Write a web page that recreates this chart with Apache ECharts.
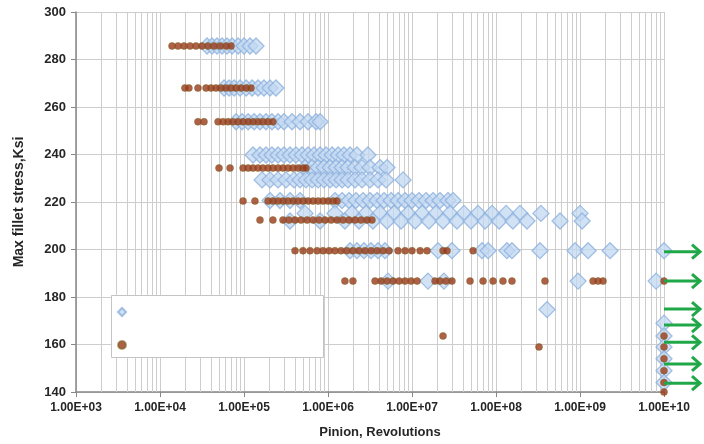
<!DOCTYPE html>
<html><head><meta charset="utf-8">
<script src="https://cdn.jsdelivr.net/npm/echarts@6/dist/echarts.min.js"></script>
<style>html,body{margin:0;padding:0;background:#fff}#c{width:704px;height:444px}</style>
</head><body><div id="c"></div>
<script>
// ---- Data: pinion revolutions per stress level (ksi) ----
// Blue diamonds
const blue286 = [3.63e4,4.16e4,4.77e4,5.48e4,6.28e4,7.21e4,8.5e4,1.0e5,1.18e5,1.39e5];
const blue268 = [5.79e4,6.64e4,7.62e4,8.98e4,1.06e5,1.25e5,1.47e5,1.73e5,2.04e5,2.40e5];
const blue254 = [8.05e4,9.49e4,1.12e5,1.32e5,1.55e5,1.83e5,2.15e5,2.54e5,2.99e5,3.73e5,4.64e5,5.79e5,7.21e5,8.05e5];
const blue240 = [1.28e5,1.55e5,1.83e5,2.15e5,2.54e5,2.99e5,3.53e5,4.16e5,4.91e5,5.79e5,6.82e5,8.05e5,9.49e5,1.12e6,1.32e6,1.55e6,1.83e6,2.21e6,2.99e6];
const blue234 = [5.33e5,6.46e5,7.62e5,8.98e5,1.06e6,1.25e6,1.47e6,1.73e6,2.10e6,2.54e6,3.16e6,4.16e6,5.04e6];
const blue229 = [1.64e5,2.04e5,2.54e5,3.16e5,3.94e5,4.64e5,5.48e5,6.46e5,7.62e5,8.98e5,1.06e6,1.25e6,1.47e6,1.73e6,2.10e6,2.54e6,3.16e6,3.94e6,4.91e6,7.83e6];
const blue221 = [2.04e5,2.68e5,3.53e5,4.64e5,1.21e6,1.47e6,1.78e6,2.15e6,2.61e6,3.16e6,3.83e6,4.64e6,5.63e6,6.82e6,8.27e6,1.0e7,1.21e7,1.47e7,1.78e7,2.15e7,2.68e7,3.08e7];
const blue215 = [5.33e5,1.21e6,1.93e6,2.83e6,4.16e6,6.11e6,8.98e6,1.32e7,1.93e7,2.83e7,4.16e7,6.11e7,8.98e7,1.32e8,1.93e8,3.43e8,1.0e9];
const blue212 = [3.53e5,8.05e5,1.59e6,2.34e6,3.43e6,5.04e6,7.41e6,1.09e7,1.59e7,2.34e7,3.43e7,5.04e7,7.41e7,1.09e8,1.59e8,2.34e8,5.79e8,1.06e9];
const blue200 = [1.83e6,2.21e6,2.68e6,3.25e6,3.94e6,4.77e6,2.04e7,2.99e7,6.82e7,8.05e7,1.35e8,1.55e8,3.34e8,8.74e8,1.25e9,2.28e9,1.0e10];
const blue187 = [5.18e6,1.55e7,2.40e7,9.49e8,8.05e9];
const blueOther = [[4.05e8,174.7]];
const blueAt1e10 = [169,163.6,159,154,149,144];

// Brown dots
const dot286 = [1.39e4,1.64e4,1.93e4,2.28e4,2.68e4,3.16e4,3.73e4,4.40e4,5.18e4,6.11e4,7.01e4];
const dot268 = [1.98e4,2.21e4,2.83e4,3.53e4,4.05e4,4.64e4,5.33e4,6.11e4,7.01e4,8.05e4,9.23e4,1.06e5,1.21e5];
const dot254 = [2.83e4,3.34e4,4.91e4,5.63e4,6.46e4,7.41e4,8.5e4,9.75e4,1.12e5,1.28e5,1.47e5,1.68e5,1.93e5,2.21e5];
const dot234 = [5.04e4,6.82e4,9.75e4,1.12e5,1.28e5,1.47e5,1.68e5,1.93e5,2.21e5,2.54e5,2.91e5,3.34e5,3.83e5,4.40e5,5.04e5,5.48e5];
const dot220 = [9.75e4,1.35e5,1.93e5,2.21e5,2.54e5,2.91e5,3.34e5,3.83e5,4.40e5,5.04e5,5.79e5,6.64e5,7.62e5,8.74e5,1.0e6,1.15e6,1.28e6];
const dot212 = [1.55e5,2.21e5,2.91e5,3.43e5,4.05e5,4.77e5,5.63e5,6.64e5,7.83e5,9.23e5,1.09e6,1.28e6,1.51e6,1.78e6,2.10e6,2.47e6,2.91e6,3.34e6];
const dot200 = [4.05e5,5.04e5,6.11e5,7.41e5,8.74e5,1.03e6,1.21e6,1.43e6,1.68e6,1.98e6,2.34e6,2.76e6,3.25e6,3.83e6,4.52e6,5.33e6,6.82e6,8.27e6,1.0e7,1.25e7,1.51e7,2.34e7,2.61e7,5.33e7];
const dot187 = [1.59e6,1.98e6,3.63e6,4.28e6,5.04e6,5.95e6,7.01e6,8.27e6,9.75e6,1.15e7,1.88e7,2.15e7,2.54e7,2.99e7,4.91e7,7.01e7,9.23e7,1.21e8,1.55e8,3.83e8,1.43e9,1.64e9,1.88e9,1.0e10];
const dotOther = [[2.34e7,163.6],[3.25e8,159]];
const dotAt1e10 = [163.6,159,154,149,144,140];

// Run-out arrows (stress levels at 1E+10)
const arrowLevels = [199.1,186.7,174.9,168.2,160.9,151.8,143.7];

// ---- build series data ----
const rowsBlue = [[285.7,blue286],[268,blue268],[253.8,blue254],[239.8,blue240],[234.5,blue234],[229.3,blue229],[220.6,blue221],[215.2,blue215],[212,blue212],[199.5,blue200],[186.7,blue187]];
const rowsDot = [[285.7,dot286],[268,dot268],[253.8,dot254],[234.3,dot234],[220.4,dot220],[212.4,dot212],[199.5,dot200],[186.7,dot187]];
const blueData = [];
rowsBlue.forEach(r => r[1].forEach(n => blueData.push([n, r[0]])));
blueOther.forEach(p => blueData.push(p));
blueAt1e10.forEach(s => blueData.push([1e10, s]));
const dotData = [];
rowsDot.forEach(r => r[1].forEach(n => dotData.push([n, r[0]])));
dotOther.forEach(p => dotData.push(p));
dotAt1e10.forEach(s => dotData.push([1e10, s]));

// minor log grid positions (2..9 per decade)
const minorGrid = [];
for (let e = 3; e < 10; e++) for (let k = 2; k <= 9; k++) minorGrid.push([k * Math.pow(10, e)]);

const font = 'Liberation Sans, Arial, sans-serif';
const txt = '#262626';
const gridColor = '#cdcdcd';
const axisColor = '#878787';

const chart = echarts.init(document.getElementById('c'));
chart.setOption({
  animation: false,
  backgroundColor: '#fff',
  grid: { left: 76, right: 40, top: 12, bottom: 52, containLabel: false },
  xAxis: {
    type: 'log', logBase: 10, min: 1e3, max: 1e10,
    name: 'Pinion, Revolutions', nameLocation: 'middle', nameGap: 34,
    nameTextStyle: { fontFamily: font, fontWeight: 'bold', fontSize: 13, color: txt, padding: [0, 0, 0, 20] },
    axisLine: { lineStyle: { color: axisColor, width: 1.5 } },
    axisTick: { show: true, length: 5, lineStyle: { color: axisColor } },
    axisLabel: {
      fontFamily: font, fontWeight: 'bold', fontSize: 12, color: txt, margin: 10,
      formatter: v => { const e = Math.round(Math.log10(v)); const m = v / Math.pow(10, e); return m.toFixed(2) + 'E+' + String(e).padStart(2, '0'); }
    },
    splitLine: { show: true, lineStyle: { color: gridColor, width: 1 } },
    minorTick: { show: false }
  },
  yAxis: {
    type: 'value', min: 140, max: 300, interval: 20,
    name: 'Max fillet stress,Ksi', nameLocation: 'middle', nameGap: 50,
    nameTextStyle: { fontFamily: font, fontWeight: 'bold', fontSize: 14, color: txt },
    axisLine: { show: true, lineStyle: { color: axisColor, width: 1.5 } },
    axisTick: { show: true, length: 5, lineStyle: { color: axisColor } },
    axisLabel: { fontFamily: font, fontWeight: 'bold', fontSize: 13, color: txt, margin: 10 },
    splitLine: { show: true, lineStyle: { color: gridColor, width: 1 } }
  },
  legend: {
    left: 117, top: 307, padding: 0, orient: 'vertical', itemGap: 23, itemWidth: 8, itemHeight: 8,
    formatter: () => '', selectedMode: false, z: 12,
    data: ['Diamonds', 'Dots']
  },
  graphic: [{
    type: 'rect', left: 111, top: 295, z: 10, silent: true,
    shape: { width: 212, height: 62 },
    style: { fill: '#fff', stroke: '#c4c4c4', lineWidth: 1 }
  }],
  series: [
    {
      type: 'custom', name: 'minorgrid', silent: true, z: 1, clip: false,
      data: minorGrid, encode: { x: 0 },
      renderItem: (params, api) => {
        const p1 = api.coord([api.value(0), 300]);
        const p2 = api.coord([api.value(0), 140]);
        return { type: 'line', shape: { x1: Math.round(p1[0]) + 0.5, y1: p1[1], x2: Math.round(p1[0]) + 0.5, y2: p2[1] }, style: { stroke: gridColor, lineWidth: 1 } };
      }
    },
    {
      type: 'scatter', name: 'Diamonds', symbol: 'diamond', symbolSize: 16, z: 3, clip: false,
      data: blueData,
      itemStyle: { color: 'rgba(194,215,242,0.92)', borderColor: '#8cb0dd', borderWidth: 1.3 }
    },
    {
      type: 'scatter', name: 'Dots', symbol: 'circle', symbolSize: 7, z: 4, clip: false,
      data: dotData,
      itemStyle: { color: '#9a3a1a', borderColor: 'rgba(120,100,30,0.7)', borderWidth: 0.8 }
    },
    {
      type: 'custom', name: 'arrows', silent: true, z: 5, clip: false,
      data: arrowLevels.map(s => [1e10, s]), encode: { x: 0, y: 1 },
      renderItem: (params, api) => {
        const p = api.coord([api.value(0), api.value(1)]);
        const x0 = p[0], y = p[1], x1 = x0 + 36;
        return { type: 'group', children: [
          { type: 'line', shape: { x1: x0, y1: y, x2: x1, y2: y }, style: { stroke: '#20a848', lineWidth: 3 } },
          { type: 'polyline', shape: { points: [[x1 - 8, y - 7], [x1, y], [x1 - 8, y + 7]] }, style: { stroke: '#20a848', lineWidth: 3, fill: null, lineJoin: 'miter' } }
        ] };
      }
    }
  ]
});
</script></body></html>
